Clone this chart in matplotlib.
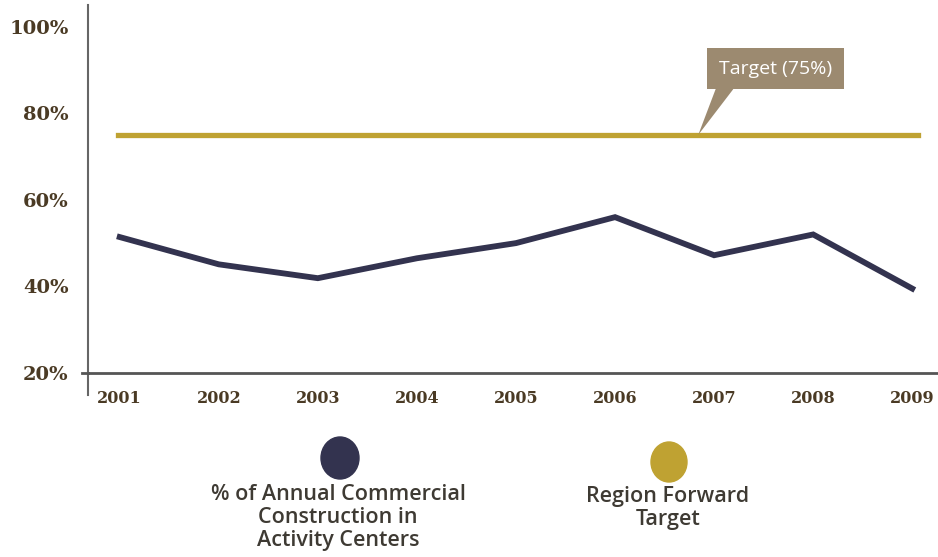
import numpy as np
import matplotlib
matplotlib.use('Agg')
import matplotlib.pyplot as plt
from matplotlib.patches import Ellipse

# данные
years = ['2001', '2002', '2003', '2004', '2005', '2006', '2007', '2008', '2009']
share = [51.4, 45.1, 41.9, 46.5, 50.0, 56.0, 47.2, 52.0, 39.5]
target = 75
y_ticks = [20, 40, 60, 80, 100]

navy = '#33334f'
gold = '#bfa232'
taupe = '#9c8a70'
brown = '#4a3a24'
legend_col = '#3e3a33'

fig = plt.figure(figsize=(9.38, 5.57), dpi=100)
ax = fig.add_axes([88/938, 1 - 373/557, 1 - 88/938, 368/557])

x = np.arange(len(years))
ax.plot(x, share, color=navy, lw=4.2, solid_joinstyle='miter')
ax.plot([x[0] - 0.02, x[-1] + 0.06], [target, target], color=gold, lw=3.8)

ax.set_xlim(-0.32, 8.26)
ax.set_ylim(20, 105)
ax.set_xticks(x)
ax.set_xticklabels(years)
ax.set_yticks(y_ticks)
ax.set_yticklabels([f'{v}%' for v in y_ticks])
ax.tick_params(axis='both', length=0, colors=brown)
ax.tick_params(axis='x', pad=12, labelsize=11.5)
ax.tick_params(axis='y', pad=14, labelsize=14)
for lab in ax.get_xticklabels() + ax.get_yticklabels():
    lab.set_fontweight('bold')
    lab.set_family('DejaVu Serif')

for s in ['top', 'right']:
    ax.spines[s].set_visible(False)
ax.spines['left'].set_color('#666666')
ax.spines['left'].set_linewidth(1.5)
ax.spines['bottom'].set_color('#555555')
ax.spines['bottom'].set_linewidth(2)
# хвосты осей за пределы области графика
ax.plot([0, 0], [0, -22/368], transform=ax.transAxes, clip_on=False,
        color='#666666', lw=1.5)
ax.plot([-6/850, 0], [0, 0], transform=ax.transAxes, clip_on=False,
        color='#555555', lw=2)

# выноска с подписью цели: клин от низа плашки к линии цели
ax.annotate('', xy=(5.84, target), xytext=(6.12, 86.5),
            arrowprops=dict(arrowstyle='wedge,tail_width=1.2,shrink_factor=0.5',
                            fc=taupe, ec='none', shrinkA=0, shrinkB=0))
ax.text(6.62, 90.3, 'Target (75%)', ha='center', va='center', color='white',
        fontsize=14, family='Open Sans',
        bbox=dict(boxstyle='square,pad=0.6', fc=taupe, ec='none'))

# легенда снизу
fig.add_artist(Ellipse((340/938, 1 - 458/557), 38/938, 42/557,
                       transform=fig.transFigure, color=navy))
fig.add_artist(Ellipse((669/938, 1 - 462/557), 36/938, 40/557,
                       transform=fig.transFigure, color=gold))
fig.text(338/938, 1 - 484/557, '% of Annual Commercial\nConstruction in\nActivity Centers',
         ha='center', va='top', fontsize=15.5, color=legend_col,
         family='Open Sans', fontweight='semibold', linespacing=1.13)
fig.text(668/938, 1 - 486/557, 'Region Forward\nTarget',
         ha='center', va='top', fontsize=15.5, color=legend_col,
         family='Open Sans', fontweight='semibold', linespacing=1.13)

fig.savefig('out.png', dpi=100)
